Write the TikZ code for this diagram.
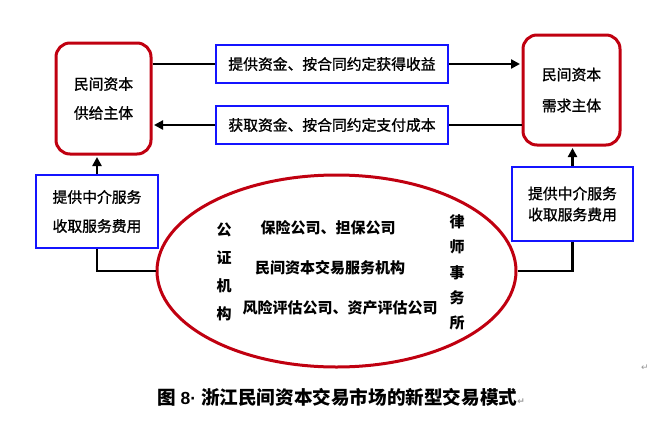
\documentclass[tikz,border=0pt]{standalone}
\usepackage{fontspec}
\setmainfont{Liberation Sans}
\newfontfamily\cjk{Noto Sans CJK SC}
\newfontfamily\cjkm[FakeBold=1.2]{Noto Sans CJK SC}
\newfontfamily\dv{DejaVu Sans}
\usetikzlibrary{arrows.meta,shapes.geometric}
\definecolor{dred}{RGB}{192,0,16}
\definecolor{bblue}{RGB}{20,20,255}
\definecolor{markgray}{RGB}{150,150,150}
\begin{document}
\begin{tikzpicture}[x=1pt,y=-1pt,
  redbox/.style={draw=dred,line width=3pt,rounded corners=14pt,align=center,inner sep=0pt,font=\cjkm\fontsize{14.8}{29}\selectfont},
  bluebox/.style={draw=bblue,line width=2pt,align=center,inner sep=0pt,font=\cjkm\fontsize{14.8}{29}\selectfont},
  oval/.style={draw=dred,ellipse,line width=3pt,inner sep=0pt},
  inner/.style={inner sep=0pt,align=center,font=\cjk\bfseries\fontsize{15}{15}\selectfont},
  conn/.style={line width=2.7pt},
  arr/.style={conn,-{Triangle[length=9pt,width=9pt]},shorten >=1.5pt},
  retmark/.style={inner sep=0pt,text=markgray,font=\dv\fontsize{9}{9}\selectfont}]
\useasboundingbox (0,0) rectangle (669,426);

\node[redbox,minimum width=95pt,minimum height=111pt] (L) at (103.5,98.5) {民间资本\\供给主体};
\node[redbox,minimum width=97pt,minimum height=110pt,font=\cjkm\fontsize{14.8}{31}\selectfont] (R) at (571.5,90) {民间资本\\需求主体};
\node[bluebox,minimum width=232pt,minimum height=38pt] (T) at (332,64) {提供资金、按合同约定获得收益};
\node[bluebox,minimum width=232pt,minimum height=38pt] (B) at (332,125) {获取资金、按合同约定支付成本};
\node[bluebox,minimum width=122pt,minimum height=73pt] (LB) at (97,211.5) {提供中介服务\\收取服务费用};
\node[bluebox,minimum width=121pt,minimum height=74pt,font=\cjkm\fontsize{14.8}{21}\selectfont] (RB) at (572.5,204) {提供中介服务\\收取服务费用};
\node[oval,minimum width=359pt,minimum height=192pt] (E) at (336.5,271) {};

\node[inner,font=\cjk\bfseries\fontsize{15}{28}\selectfont] (G) at (224,272) {公\\证\\机\\构};
\node[inner,font=\cjk\bfseries\fontsize{15}{25.3}\selectfont] (LS) at (457,272.5) {律\\师\\事\\务\\所};
\node[inner] (T1) at (328,228) {保险公司、担保公司};
\node[inner] (T2) at (330,268) {民间资本交易服务机构};
\node[inner] (T3) at (340,308) {风险评估公司、资产评估公司};

\draw[conn] (L.east |- T.west) -- (T.west);
\draw[arr] (T.east) -- (T.east -| R.west);
\draw[conn] (R.west |- B.east) -- (B.east);
\draw[arr] (B.west) -- (B.west -| L.east);
\draw[arr] (LB.north) -- (LB.north |- L.south);
\draw[conn] (E.west) -- (E.west -| LB.south) -- (LB.south);
\draw[conn] (E.east) -- (E.east -| RB.south) -- (RB.south);
\draw[arr] (RB.north) -- (RB.north |- R.south);

\node[anchor=west,inner sep=0pt,font=\cjk\bfseries\fontsize{18.6}{18.6}\selectfont] (CAP) at (157,397) {图{\rmfamily\bfseries\fontsize{17.5}{17.5}\selectfont\ 8·\ }浙江民间资本交易市场的新型交易模式{\dv\fontsize{9}{9}\selectfont\color{markgray}↵}};
\node[retmark] (M) at (645,368) {↵};
\end{tikzpicture}
\end{document}
